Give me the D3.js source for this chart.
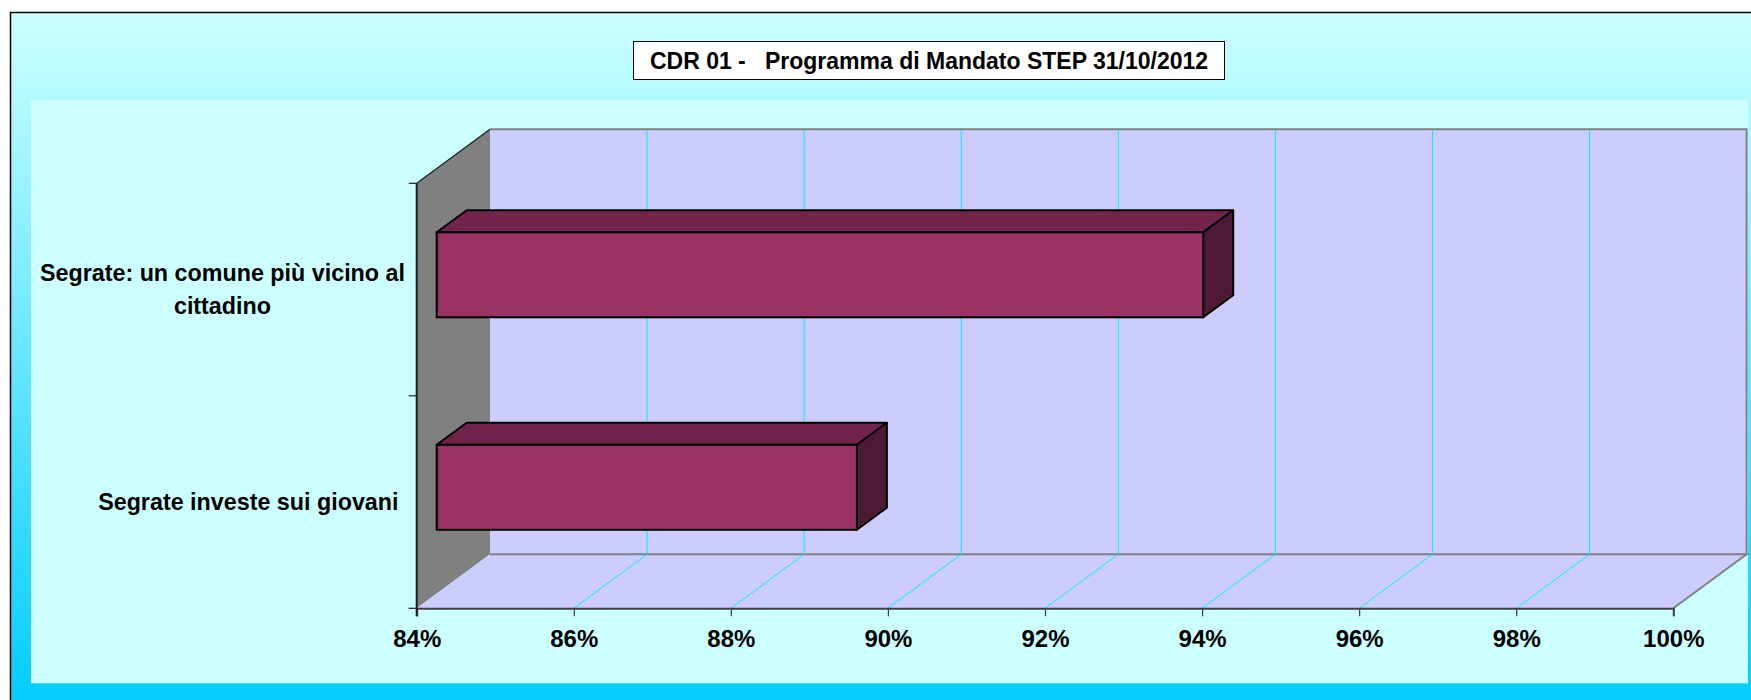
<!DOCTYPE html>
<html>
<head>
<meta charset="utf-8">
<script src="https://cdn.jsdelivr.net/npm/d3@7"></script>
<style>
  html, body { margin: 0; padding: 0; background: #ffffff; }
  svg { display: block; }
  text { font-family: "Liberation Sans", Arial, sans-serif; font-weight: bold; fill: #000; white-space: pre; }
</style>
</head>
<body>
<div id="chart"></div>
<script>
// ---- data ----
const title = "CDR 01 -   Programma di Mandato STEP 31/10/2012";
const categories = ["Segrate: un comune più vicino al\ncittadino", "Segrate investe sui giovani "];
const values = [0.9376, 0.8935];
const xTicks = [0.84, 0.86, 0.88, 0.90, 0.92, 0.94, 0.96, 0.98, 1.00];
const xTickLabels = ["84%", "86%", "88%", "90%", "92%", "94%", "96%", "98%", "100%"];

// ---- layout ----
const W = 1751, H = 700;
const svg = d3.select("#chart").append("svg").attr("width", W).attr("height", H);

const defs = svg.append("defs");
const grad = defs.append("linearGradient").attr("id", "bg").attr("x1", 0).attr("y1", 0).attr("x2", 0).attr("y2", 1);
grad.append("stop").attr("offset", "0%").attr("stop-color", "#ccffff");
grad.append("stop").attr("offset", "100%").attr("stop-color", "#00ccff");

// chart area
svg.append("rect").attr("x", 10.5).attr("y", 12.5).attr("width", W).attr("height", H)
  .attr("fill", "url(#bg)").attr("stroke", "#000").attr("stroke-width", 1.5);
// plot area
svg.append("rect").attr("x", 31).attr("y", 100).attr("width", 1717).attr("height", 583.3)
  .attr("fill", "#ccffff");

// title
const tg = svg.append("g");
tg.append("rect").attr("x", 633.5).attr("y", 41.5).attr("width", 591).attr("height", 38)
  .attr("fill", "#fff").attr("stroke", "#000").attr("stroke-width", 1);
tg.append("text").attr("x", 929).attr("y", 69).attr("text-anchor", "middle")
  .attr("font-size", 23).text(title);

// scales
const x = d3.scaleLinear().domain([0.84, 1.00]).range([416.7, 1673.3]);
const y = d3.scaleBand().domain(categories).range([183.3, 608.3]);
const D = {dx: 73.3, dy: -54};   // depth vector (front plane -> back wall)
const f0 = 0.273, f1 = 0.682;    // bar front/back depth fractions
const floorY = y.range()[1], topY = y.range()[0];
const x0 = x.range()[0], x1 = x.range()[1];
const wallTop = 129.3;

const line = d3.line();

// side wall (left)
svg.append("path").attr("d", line([[x0, topY], [x0 + D.dx, topY + D.dy], [x0 + D.dx, floorY + D.dy], [x0, floorY]]) + "Z")
  .attr("fill", "#808080");
svg.append("path").attr("d", line([[x0, topY], [x0 + D.dx, topY + D.dy]]))
  .attr("stroke", "#202020").attr("stroke-width", 1.2).attr("fill", "none");

// back wall
svg.append("rect").attr("x", x0 + D.dx).attr("y", wallTop).attr("width", x1 - x0).attr("height", floorY + D.dy - wallTop)
  .attr("fill", "#ccccff");
svg.append("path").attr("d", line([[x0 + D.dx, wallTop], [x1 + D.dx, wallTop], [x1 + D.dx, floorY + D.dy]]))
  .attr("stroke", "#808080").attr("stroke-width", 2).attr("fill", "none");

// floor
svg.append("path").attr("d", line([[x0, floorY], [x1, floorY], [x1 + D.dx, floorY + D.dy], [x0 + D.dx, floorY + D.dy]]) + "Z")
  .attr("fill", "#ccccff");
svg.append("path").attr("d", line([[x0 + D.dx, floorY + D.dy], [x1 + D.dx, floorY + D.dy], [x1, floorY]]))
  .attr("stroke", "#808080").attr("stroke-width", 2).attr("fill", "none");

// gridlines
const inner = xTicks.filter(t => t > 0.84 && t < 1.0);
svg.append("g").selectAll("line").data(inner).join("line")
  .attr("x1", d => x(d) + D.dx).attr("x2", d => x(d) + D.dx)
  .attr("y1", wallTop + 1).attr("y2", floorY + D.dy - 1)
  .attr("stroke", "#00f0ff").attr("stroke-width", 1);
svg.append("g").selectAll("line").data(inner).join("line")
  .attr("x1", d => x(d)).attr("x2", d => x(d) + D.dx)
  .attr("y1", floorY).attr("y2", floorY + D.dy)
  .attr("stroke", "#00f0ff").attr("stroke-width", 1);

// x axis (front edge of floor)
const xAxis = svg.append("g").attr("transform", `translate(0,${floorY})`)
  .call(d3.axisBottom(x).tickValues(xTicks).tickSize(8).tickPadding(14)
    .tickFormat((d, i) => xTickLabels[i]));
xAxis.select(".domain").attr("stroke", "#404040").attr("stroke-width", 2);
xAxis.selectAll(".tick line").attr("stroke", "#404040").attr("stroke-width", 1.2);
xAxis.selectAll(".tick text").attr("font-size", 24).attr("font-family", "Liberation Sans, Arial, sans-serif")
  .attr("font-weight", "bold").attr("fill", "#000");

// y axis (front edge of side wall)
const yTickPos = [topY, (topY + floorY) / 2, floorY];
svg.append("line").attr("x1", x0).attr("x2", x0).attr("y1", topY).attr("y2", floorY + 8)
  .attr("stroke", "#202020").attr("stroke-width", 2);
svg.append("g").selectAll("line").data(yTickPos).join("line")
  .attr("x1", x0 - 8).attr("x2", x0).attr("y1", d => d).attr("y2", d => d)
  .attr("stroke", "#202020").attr("stroke-width", 1.2);

// bars
const bh = y.bandwidth() * 0.4;
const bdx = (f1 - f0) * D.dx, bdy = (f1 - f0) * D.dy;
const bars = svg.append("g").selectAll("g").data(categories.map((c, i) => ({c, v: values[i]}))).join("g");
bars.each(function(d) {
  const g = d3.select(this);
  const yc = y(d.c) + y.bandwidth() / 2;
  const L = x(0.84) + f0 * D.dx, R = x(d.v) + f0 * D.dx;
  const T = yc - bh / 2 + f0 * D.dy, B = yc + bh / 2 + f0 * D.dy;
  g.append("path").attr("d", line([[L, T], [R, T], [R + bdx, T + bdy], [L + bdx, T + bdy]]) + "Z")
    .attr("fill", "#72244c").attr("stroke", "#000").attr("stroke-width", 2).attr("stroke-linejoin", "round");
  g.append("path").attr("d", line([[R, T], [R + bdx, T + bdy], [R + bdx, B + bdy], [R, B]]) + "Z")
    .attr("fill", "#4d1a33").attr("stroke", "#000").attr("stroke-width", 2).attr("stroke-linejoin", "round");
  g.append("rect").attr("x", L).attr("y", T).attr("width", R - L).attr("height", B - T)
    .attr("fill", "#993366").attr("stroke", "#000").attr("stroke-width", 2);
});

// category labels (block right-aligned to axis, lines centred in block)
const labelRight = 405;
const lab = svg.append("g").selectAll("text").data(categories).join("text")
  .attr("font-size", 23.3).attr("text-anchor", "middle");
lab.each(function(c) {
  const lines = c.split("\n");
  const t = d3.select(this);
  const yc = y(c) + y.bandwidth() / 2;
  const lh = 33;
  const startY = yc - (lines.length - 1) * lh / 2 + 8;
  const spans = lines.map((s, i) => t.append("tspan").attr("x", 0).attr("y", startY + i * lh).text(s));
  const w = d3.max(spans, sp => sp.node().getComputedTextLength());
  spans.forEach(sp => sp.attr("x", labelRight - w / 2));
});
</script>
</body>
</html>
